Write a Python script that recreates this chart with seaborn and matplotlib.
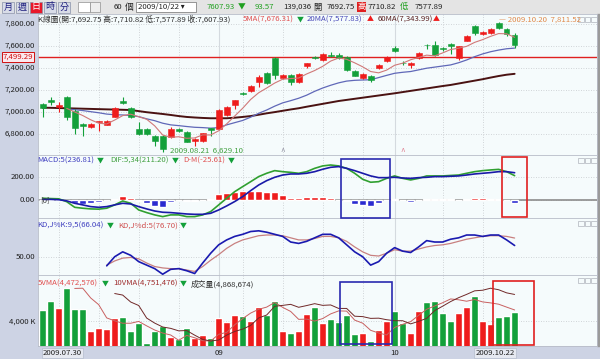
import numpy as np
import matplotlib
matplotlib.use("Agg")
import matplotlib.pyplot as plt
import seaborn as sns
from matplotlib.patches import Rectangle

nan = np.nan
days = list(range(60))
x_labels = ["2009.07.30", "09", "10", "2009.10.22"]
x_label_pos = [0, 22, 44, 59]

# K line (open / high / low / close)
opens = [7069, 7106, 7040, 7136, 7010, 6888, 6864, 6905, 6882, 6955,
         7100, 7034, 6843, 6843, 6782, 6782, 6773, 6843, 6813, 6736,
         6730, 6849, 6843, 6973, 7064, 7170, 7191, 7267, 7349, 7490,
         7306, 7334, 7267, 7413, 7500, 7470, 7515, 7515, 7494, 7367,
         7306, 7327, 7395, 7464, 7579, 7442, 7427, 7485, 7610, 7609,
         7578, 7615, 7485, 7645, 7776, 7706, 7715, 7803, 7751, 7692.75]
highs = [7080, 7136, 7085, 7140, 7025, 6895, 6895, 6918, 6920, 7045,
         7136, 7045, 6903, 6850, 6790, 6790, 6860, 6850, 6820, 6760,
         6810, 6855, 7020, 7050, 7110, 7178, 7240, 7330, 7360, 7499.29,
         7340, 7340, 7350, 7445, 7505, 7530, 7545, 7530, 7505, 7375,
         7350, 7335, 7435, 7505, 7600, 7460, 7450, 7540, 7612, 7640,
         7590, 7620, 7600, 7700, 7790, 7730, 7760, 7811.52, 7760, 7710.82]
lows = [6949, 7064, 6995, 6925, 6800, 6782, 6855, 6827, 6875, 6950,
        7070, 6940, 6790, 6790, 6690, 6629.10, 6760, 6815, 6720, 6690,
        6720, 6782, 6830, 6965, 7025, 7150, 7180, 7220, 7250, 7300,
        7300, 7240, 7260, 7400, 7480, 7465, 7500, 7480, 7370, 7320,
        7295, 7270, 7385, 7455, 7540, 7420, 7400, 7480, 7570, 7505,
        7550, 7520, 7470, 7640, 7700, 7700, 7705, 7750, 7690, 7577.89]
closes = [7033, 7085, 7064, 6949, 6855, 6873, 6888, 6912, 6912, 7034,
          7076, 6949, 6797, 6797, 6736, 6661, 6843, 6822, 6727, 6752,
          6803, 6834, 7015, 7040, 7106, 7158, 7236, 7318, 7258, 7330,
          7334, 7267, 7343, 7440, 7488, 7524, 7503, 7487, 7379, 7327,
          7343, 7291, 7427, 7500, 7549, 7438, 7445, 7534, 7605, 7512,
          7574, 7600, 7594, 7691, 7715, 7721, 7751, 7761, 7706, 7607.93]

ma5 = [nan] * 3 + [7030, 6997, 6965, 6926, 6895, 6888, 6924, 6964, 6977, 6954,
                   6931, 6871, 6788, 6767, 6772, 6758, 6761, 6789, 6788, 6826,
                   6889, 6960, 7031, 7111, 7172, 7215, 7260, 7295, 7301, 7306,
                   7343, 7374, 7412, 7460, 7488, 7476, 7444, 7408, 7365, 7353,
                   7378, 7422, 7441, 7472, 7493, 7514, 7507, 7534, 7565, 7577,
                   7594, 7630, 7655, 7685, 7710, 7708, 7676.31]
ma20 = [nan] * 3 + [7025, 7018, 7010, 7000, 6990, 6978, 6972, 6970, 6965, 6955,
                    6935, 6918, 6895, 6880, 6873, 6865, 6858, 6855, 6850, 6855,
                    6880, 6900, 6920, 6950, 6985, 7015, 7050, 7080, 7100, 7122,
                    7150, 7185, 7215, 7240, 7262, 7278, 7285, 7288, 7290, 7310,
                    7330, 7349, 7358, 7365, 7380, 7395, 7405, 7415, 7425, 7445,
                    7470, 7500, 7525, 7545, 7560, 7572, 7577.83]
ma60 = [7036, 7035, 7033, 7031, 7029, 7027, 7025, 7023, 7021, 7019,
        7017, 7015, 7005, 6995, 6987, 6979, 6970, 6960, 6952, 6947,
        6943, 6940, 6940, 6940, 6945, 6952, 6960, 6972, 6985, 6996,
        7008, 7020, 7031, 7045, 7058, 7071, 7084, 7097, 7107, 7117,
        7127, 7137, 7147, 7157, 7167, 7178, 7189, 7200, 7211, 7222,
        7233, 7243, 7256, 7269, 7282, 7295, 7310, 7324, 7336, 7343.99]

# MACD
dif = [15, 12, 10, -15, -64, -72, -78, -80, -72, -43,
       -9, -29, -87, -110, -130, -145, -130, -130, -145, -145,
       -130, -101, -43, 15, 72, 116, 159, 203, 232, 255,
       246, 240, 232, 246, 275, 296, 304, 296, 275, 232,
       180, 154, 159, 188, 209, 188, 174, 188, 209, 209,
       209, 213, 217, 232, 246, 255, 261, 266, 246, 211.20]
macd = [5, 5, 2, -8, -29, -43, -58, -64, -58, -43,
        -29, -35, -58, -78, -96, -107, -110, -116, -122, -125,
        -125, -116, -87, -52, -14, 29, 81, 130, 168, 197,
        217, 226, 226, 232, 246, 267, 284, 290, 275, 255,
        232, 209, 194, 194, 197, 191, 188, 194, 197, 203,
        203, 206, 209, 217, 226, 232, 238, 246, 246, 236.81]
osc = [3, 3, 3, -5, -29, -35, -29, -20, -3, 9,
       32, 15, -5, -29, -49, -58, -20, -3, -12, -12,
       -3, 9, 52, 61, 72, 75, 81, 75, 67, 67,
       46, 17, 20, 23, 23, 23, 15, 2, -6, -35,
       -44, -55, -29, -2, 9, 2, -15, 2, 12, 6,
       6, 6, 2, 6, 15, 15, 9, 9, 2, -25.61]

# KD
k_line = [nan] * 8 + [37, 50, 57, 52, 43, 38, 33, 25, 32, 33,
                      30, 26, 41, 55, 67, 74, 79, 82, 86, 87,
                      85, 82, 79, 71, 69, 72, 77, 82, 82, 77,
                      67, 57, 50, 38, 43, 55, 63, 58, 56, 64,
                      73, 71, 71, 75, 77, 81, 81, 79, 81, 81,
                      74, 66.04]
d_line = [nan] * 8 + [38, 44, 48, 49, 47, 41, 36, 34, 33, 33,
                      31, 29, 36, 45, 53, 62, 69, 74, 77, 80,
                      81, 81, 80, 77, 74, 74, 76, 79, 79, 77,
                      72, 64, 57, 52, 51, 55, 60, 58, 58, 61,
                      64, 66, 67, 69, 72, 75, 77, 79, 80, 80,
                      79, 76.70]

# volume (K)
volume = [5097, 6000, 5320, 7204, 5165, 5165, 3087, 3320, 3252, 4290,
          4450, 3087, 3864, 1922, 3058, 3543, 2505, 2282, 3380, 2350,
          2670, 2408, 4290, 3961, 4612, 4515, 4058, 5417, 4612, 6000,
          3058, 2835, 3058, 4680, 5417, 3806, 4223, 3961, 4612, 2738,
          2893, 2087, 3155, 4029, 5000, 3806, 2893, 5029, 5845, 5971,
          4777, 4029, 4777, 5417, 6485, 4058, 3738, 4388, 4544, 4868.674]
vma5 = [nan] * 4 + [5757, 5771, 5188, 4788, 3998, 3823, 3680, 3680, 3789, 3523,
                    3276, 3095, 2978, 2662, 2954, 2812, 2637, 2618, 3020, 3136,
                    3588, 3957, 4287, 4513, 4643, 4920, 4629, 4384, 3913, 3926,
                    3810, 3959, 4237, 4417, 4404, 3868, 3685, 3258, 3097, 2980,
                    3433, 3615, 3777, 4151, 4515, 4709, 4903, 5130, 5080, 4994,
                    5097, 4953, 4895, 4817, 4643, 4472.576]
vma10 = [nan] * 9 + [4790, 4725, 4434, 4288, 3760, 3550, 3387, 3329, 3225, 3238,
                     3044, 2866, 2798, 2841, 3045, 3200, 3297, 3453, 3766, 3889,
                     4254, 4293, 4336, 4213, 4285, 4365, 4294, 4311, 4165, 4165,
                     3839, 3822, 3748, 3757, 3692, 3650, 3650, 3517, 3624, 3748,
                     4071, 4259, 4453, 4616, 4754, 4903, 4928, 5013, 4949, 4818,
                     4751.476]

RED = "#ee1c1c"
GREEN = "#13a03a"
BLUE = "#2a2ad0"
BG = "#f5fbfc"
SIDE = "#cdd3e4"

sns.set_style("white")
plt.rcParams["font.family"] = ["Noto Sans CJK TC", "DejaVu Sans"]

W, H = 600, 359
fig = plt.figure(figsize=(6, 3.59), dpi=100)
fig.patch.set_facecolor(BG)


def axes_px(x0, y0, x1, y1):
    return fig.add_axes([x0 / W, 1 - y1 / H, (x1 - x0) / W, (y1 - y0) / H])


def rect_px(x0, y0, x1, y1, **kw):
    fig.patches.append(Rectangle((x0 / W, 1 - y1 / H), (x1 - x0) / W, (y1 - y0) / H,
                                 transform=fig.transFigure, **kw))


def txt(x, y, s, color="#202020", size=5.6, **kw):
    fig.text(x / W, 1 - y / H, s, color=color, fontsize=size, va="center", zorder=12, **kw)


# backgrounds (below the axes)
rect_px(0, 0, 600, 14, color="#e4e4e4", zorder=-2)
rect_px(0, 14, 38, 346, color=SIDE, zorder=-2)
rect_px(0, 346, 600, 359, color=SIDE, zorder=-2)
rect_px(597, 14, 600, 346, color="#9a9a9a", zorder=-2)

up = [c >= o for o, c in zip(opens, closes)]
colors = [RED if u else GREEN for u in up]
xlim = (-0.59, 69.3)
grid_x = [2, 7, 12, 17, 25, 30, 35, 40, 50, 55]
month_x = [22, 44]


def panel(y0, y1, ylim, yticks, ylabels):
    ax = axes_px(38, y0, 597, y1)
    ax.set_facecolor(BG)
    ax.set_xlim(*xlim)
    ax.set_ylim(*ylim)
    ax.set_xticks([])
    ax.set_yticks([])
    for s in ax.spines.values():
        s.set_color("#b8bcc8")
        s.set_linewidth(0.6)
    lo, hi = ylim
    for y, lab in zip(yticks, ylabels):
        ax.axhline(y, color="#c4c8cc", lw=0.6, ls=(0, (1, 2)), zorder=0)
        txt(35, y0 + (hi - y) / (hi - lo) * (y1 - y0), lab, "#202020", 5.6, ha="right")
    for gx in grid_x:
        ax.axvline(gx, color="#c4c8cc", lw=0.6, ls=(0, (1, 2)), zorder=0)
    for gx in month_x:
        ax.axvline(gx, color="#d4dadf", lw=0.8, zorder=0)
    # small window buttons at the top right of every panel
    for k in range(3):
        rect_px(578 + k * 6.5, y0 + 3, 583.5 + k * 6.5, y0 + 8, fill=False,
                ec="#b0b4bc", lw=0.5, zorder=11)
    return ax


# main K line panel
ax = panel(14, 155, (6606, 7888), [6800, 7000, 7200, 7400, 7600, 7800],
           ["6,800.00", "7,000.00", "7,200.00", "7,400.00", "7,600.00", "7,800.00"])
ax.axhline(7499.29, color="#e02020", lw=1.0, zorder=1)
ax.vlines(days, lows, highs, colors=colors, lw=0.8, zorder=3)
bottoms = [min(o, c) for o, c in zip(opens, closes)]
heights = [max(abs(c - o), 4) for o, c in zip(opens, closes)]
ax.bar(days, heights, bottom=bottoms, width=0.72, color=colors, edgecolor=colors,
       lw=0.4, zorder=4)
sns.lineplot(x=days, y=ma60, ax=ax, color="#4a1212", lw=1.4, zorder=2)
sns.lineplot(x=days, y=ma20, ax=ax, color="#6068b8", lw=0.9, zorder=2)
sns.lineplot(x=days, y=ma5, ax=ax, color="#d07878", lw=0.8, zorder=5)
ax.set_ylabel("")
ax.set_ylim(6606, 7888)

# MACD panel
ax2 = panel(155, 218, (-157, 391), [0, 200], ["0.00", "200.00"])
ax2.bar(days, osc, width=0.85, color=[RED if v >= 0 else BLUE for v in osc], zorder=2)
ax2.axhline(0, color="#8c8c8c", lw=1.2, zorder=1)
sns.lineplot(x=days, y=dif, ax=ax2, color="#30a030", lw=1.2, zorder=3)
sns.lineplot(x=days, y=macd, ax=ax2, color="#1a1aa8", lw=1.2, zorder=3)
ax2.set_ylabel("")
ax2.set_ylim(-157, 391)

# KD panel
ax3 = panel(218, 275, (23.9, 105.3), [50], ["50.00"])
sns.lineplot(x=days, y=d_line, ax=ax3, color="#c88080", lw=0.9)
sns.lineplot(x=days, y=k_line, ax=ax3, color="#1a1ab0", lw=1.2)
ax3.set_ylabel("")
ax3.set_ylim(23.9, 105.3)

# volume panel
ax4 = panel(275, 346, (1602, 8496), [4000], ["4,000 K"])
ax4.bar(days, volume, width=0.85, color=colors, zorder=2)
ax4.set_ylabel("")
ax4.set_ylim(1602, 8496)
for vals, col in [(vma5, "#c86060"), (vma10, "#702828")]:
    tw = ax4.twinx()
    sns.lineplot(x=days, y=vals, ax=tw, color=col, lw=0.7)
    lo, hi = np.nanmin(vals), np.nanmax(vals)
    r = hi - lo
    tw.set_ylim(lo - 0.094 * r, hi + 0.25 * r)
    tw.set_xlim(*xlim)
    tw.axis("off")

# marked boxes
for (x0, y0, x1, y1, c) in [(340.7, 159.3, 390, 218.3, "#2a2ab0"), (501.7, 156.7, 527.3, 216.7, "#e02020"),
                            (340, 281.7, 391.7, 344, "#2a2ab0"), (493.3, 281, 534, 345, "#e02020")]:
    rect_px(x0, y0, x1, y1, fill=False, edgecolor=c, lw=1.2, zorder=10)

# panel legends
txt(38, 19.5, "K線圖(開:7,692.75 高:7,710.82 低:7,577.89 收:7,607.93)", "#303030")
txt(243, 19.5, "5MA(7,676.31)", "#e05050")
txt(297, 19.5, "▼", GREEN, 5)
txt(307, 19.5, "20MA(7,577.83)", "#4848b8")
txt(367, 19.5, "▲", RED, 5)
txt(378, 19.5, "60MA(7,343.99)", "#5a2020")
txt(433, 19.5, "▲", RED, 5)
txt(499, 19.5, "— 2009.10.20  7,811.52", "#e08848")
txt(170, 151, "2009.08.21  6,629.10", "#40a040")
txt(18, 56.8, "7,499.29", "#d01010", 5.6, ha="center",
    bbox=dict(boxstyle="square,pad=0.15", fc="#fbe9ee", ec="#d01010", lw=0.7))
txt(283, 153, "^", "#9090a0", 6, ha="center")
txt(403, 153, "^", "#e08090", 6, ha="center")

txt(37, 161, "MACD:5(236.81)", "#4040c0")
txt(97, 161, "▼", GREEN, 5)
txt(110, 161, "DIF:5,34(211.20)", "#40a040")
txt(172, 161, "▼", GREEN, 5)
txt(183, 161, "D-M(-25.61)", "#e05050")
txt(228, 161, "▼", GREEN, 5)
txt(40, 200, "[0]", "#404040")

txt(37, 226, "KD,J%K:9,5(66.04)", "#4040c0")
txt(107, 226, "▼", GREEN, 5)
txt(118, 226, "KD,J%d:5(76.70)", "#d05050")
txt(180, 226, "▼", GREEN, 5)

txt(38, 284, "5VMA(4,472,576)", "#e05050")
txt(102, 284, "▼", GREEN, 5)
txt(113, 284, "10VMA(4,751,476)", "#a03030")
txt(180, 284, "▼", GREEN, 5)
txt(191, 284, "成交量(4,868,674)", "#303030")

# x axis labels
box = dict(boxstyle="square,pad=0.15", fc="#e6e9f1", ec="#b4bccc", lw=0.5)
for lab, pos in zip(x_labels, x_label_pos):
    px = 42.7 + 8 * pos
    if lab.startswith("2009.07"):
        txt(px, 353, lab, "#202020", 5.6, ha="left", bbox=box)
    elif lab.startswith("2009.10"):
        txt(px, 353, lab, "#202020", 5.6, ha="right", bbox=box)
    else:
        txt(px, 353, lab, "#202020", 5.6, ha="center")

# toolbar
for i, b in enumerate(["月", "週", "日", "時", "分"]):
    x0 = 2 + i * 14
    rect_px(x0, 1.5, x0 + 12, 12.5, fc="#e8182a" if b == "日" else "#d8dce8",
            ec="#8890a8", lw=0.5, zorder=1)
    txt(x0 + 6, 7, b, "white" if b == "日" else "#202080", 6.5, ha="center")
rect_px(78, 2, 90, 12, fc="white", ec="#909090", lw=0.5)
rect_px(90, 2, 100, 12, fc="#eeeeee", ec="#909090", lw=0.5)
txt(114, 7, "60", "#202020", 5.6)
txt(125, 7, "個", "#202020", 6.3)
rect_px(136, 2, 196, 12, fc="white", ec="#707070", lw=0.5)
txt(138, 7, "2009/10/22 ▾", "#202020", 5.6)
txt(207, 7, "7607.93", "#20a020", 5.6)
txt(238, 7, "▼", "#20a020", 5.6)
txt(255, 7, "93.57", "#20a020", 5.6)
txt(283, 7, "139,036", "#202020", 5.6)
txt(313, 7, "開", "#202020", 6.0)
txt(327, 7, "7692.75", "#202020", 5.6)
txt(357, 7, "高", "white", 6.0, bbox=dict(boxstyle="square,pad=0.05", fc="#e02020", ec="none"))
txt(368, 7, "7710.82", "#202020", 5.6)
txt(400, 7, "低", "#20a020", 6.0)
txt(415, 7, "7577.89", "#202020", 5.6)

fig.savefig("out.png", dpi=100, facecolor=fig.get_facecolor())
